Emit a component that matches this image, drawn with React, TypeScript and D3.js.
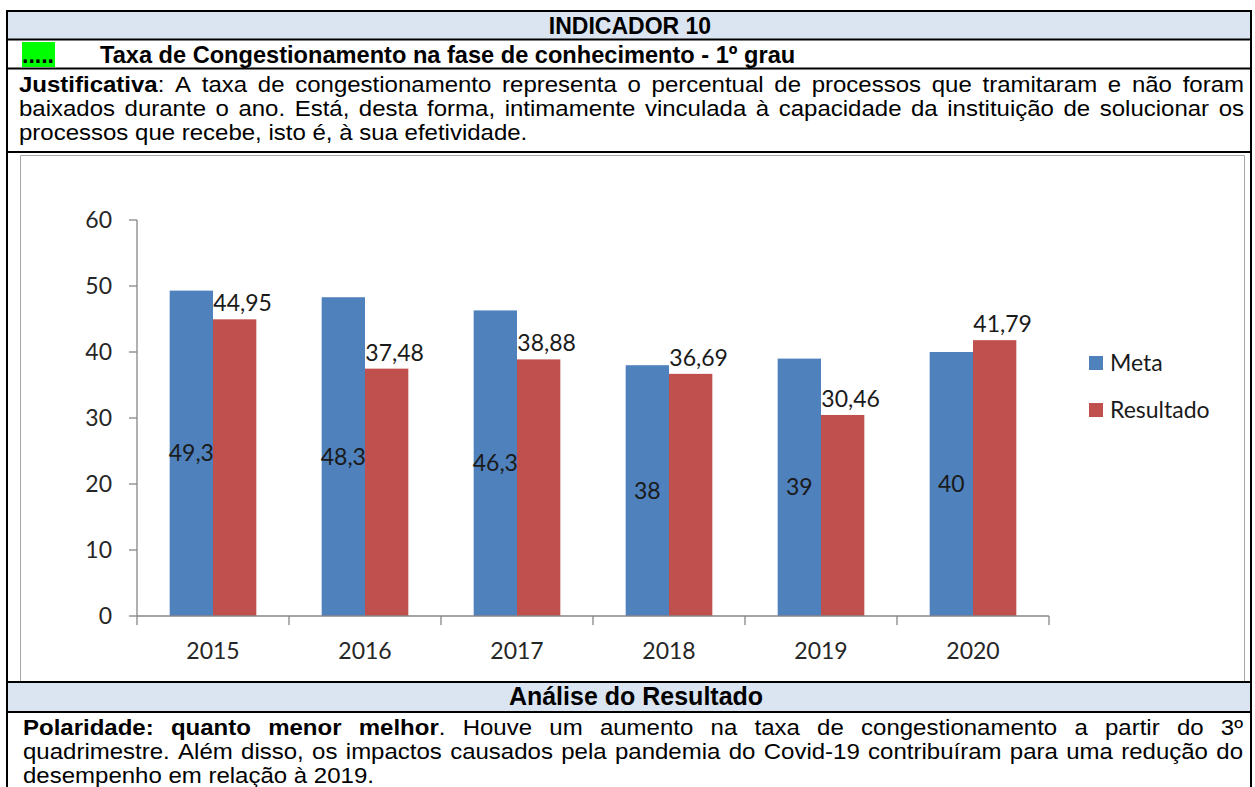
import React from 'react';
import * as d3 from 'd3';

const years = ['2015', '2016', '2017', '2018', '2019', '2020'];
const metaValues = [49.3, 48.3, 46.3, 38, 39, 40];
const resultadoValues = [44.95, 37.48, 38.88, 36.69, 30.46, 41.79];
const seriesNames = ['Meta', 'Resultado'];
const seriesColors = ['#4f81bd', '#c0504d'];
const yTicks = [0, 10, 20, 30, 40, 50, 60];

const headerText = 'INDICADOR 10';
const dotsText = '.....';
const titleText = 'Taxa de Congestionamento na fase de conhecimento - 1º grau';
const analiseText = 'Análise do Resultado';

type Run = { t: string; b: boolean };
const justLines: Run[][] = [
  [
    { t: 'Justificativa', b: true },
    { t: ': A taxa de congestionamento representa o percentual de processos que tramitaram e não foram', b: false },
  ],
  [{ t: 'baixados durante o ano. Está, desta forma, intimamente vinculada à capacidade da instituição de solucionar os', b: false }],
  [{ t: 'processos que recebe, isto é, à sua efetividade.', b: false }],
];
const analiseLines: Run[][] = [
  [
    { t: 'Polaridade: quanto menor melhor', b: true },
    { t: '. Houve um aumento na taxa de congestionamento a partir do 3º', b: false },
  ],
  [{ t: 'quadrimestre. Além disso, os impactos causados pela pandemia do Covid-19 contribuíram para uma redução do', b: false }],
  [{ t: 'desempenho em relação à 2019.', b: false }],
];

const TFONT = '"Liberation Sans", Arial, sans-serif';
const MSIZE = 24; // advance widths as in the reference
const RSIZE = 21.4; // glyph height as in the reference
const CFONT = 'Lato, "Open Sans", sans-serif';
const CSIZE = 23;

let _ctx: CanvasRenderingContext2D | null = null;
function measure(text: string, bold: boolean) {
  if (!_ctx) _ctx = document.createElement('canvas').getContext('2d');
  _ctx!.font = `${bold ? 'bold ' : ''}${MSIZE}px ${TFONT}`;
  return _ctx!.measureText(text).width;
}

type Word = { runs: Run[]; x: number; y: number; w: number };

function layoutLine(runs: Run[], x0: number, x1: number, y: number, justify: boolean): Word[] {
  const words: { runs: Run[]; w: number }[] = [];
  let cur: Run[] = [];
  const pushChar = (ch: string, b: boolean) => {
    const last = cur[cur.length - 1];
    if (last && last.b === b) last.t += ch;
    else cur.push({ t: ch, b });
  };
  const flush = () => {
    if (cur.length) {
      const w = cur.reduce((s, r) => s + measure(r.t, r.b), 0);
      words.push({ runs: cur, w });
    }
    cur = [];
  };
  runs.forEach((r) => {
    for (const ch of r.t) {
      if (ch === ' ') flush();
      else pushChar(ch, r.b);
    }
  });
  flush();
  const total = words.reduce((s, w) => s + w.w, 0);
  const gap = justify && words.length > 1 ? (x1 - x0 - total) / (words.length - 1) : measure(' ', false);
  let x = x0;
  return words.map((w) => {
    const out = { runs: w.runs, x, y, w: w.w };
    x += w.w + gap;
    return out;
  });
}

function Paragraph({ lines, x0, x1, y0, lh }: { lines: Run[][]; x0: number; x1: number; y0: number; lh: number }) {
  const words: Word[] = [];
  lines.forEach((runs, i) => {
    words.push(...layoutLine(runs, x0, x1, y0 + i * lh, i < lines.length - 1));
  });
  return (
    <g>
      {words.map((w, i) => (
        <text
          key={i}
          x={w.x}
          y={w.y}
          fontFamily={TFONT}
          fontSize={RSIZE}
          fill="#000"
          textLength={w.w}
          lengthAdjust="spacingAndGlyphs"
        >
          {w.runs.map((r, j) => (
            <tspan key={j} fontWeight={r.b ? 'bold' : 'normal'}>
              {r.t}
            </tspan>
          ))}
        </text>
      ))}
    </g>
  );
}

const fmt = (v: number) => String(v).replace('.', ',');

export default function App() {
  const W = 1255;
  const H = 787;

  const x = d3.scaleBand<string>().domain(years).range([137, 1049]).paddingInner(0.43).paddingOuter(0.215);
  const xs = d3.scaleBand<string>().domain(seriesNames).range([0, x.bandwidth()]).padding(0);
  const y = d3.scaleLinear().domain([0, 60]).range([616, 220]);
  const step = x.step();
  const axisColor = '#868686';
  const seriesValues = [metaValues, resultadoValues];

  const L = 7;
  const R = 1251;

  return (
    <svg width={W} height={H} style={{ position: 'absolute', left: 0, top: 0 }} xmlns="http://www.w3.org/2000/svg">
      <rect x={0} y={0} width={W} height={H} fill="#fff" />
      <rect x={L} y={11} width={R - L} height={28.5} fill="#dbe5f1" />
      <rect x={L} y={682} width={R - L} height={30} fill="#dbe5f1" />
      <rect x={22} y={42} width={33} height={25} fill="#00ff00" />

      <g stroke="#a6a6a6" strokeWidth={1} fill="none">
        <line x1={20.5} y1={155.5} x2={20.5} y2={682} />
        <line x1={20.5} y1={155.5} x2={1244.5} y2={155.5} />
        <line x1={1244.5} y1={155.5} x2={1244.5} y2={682} />
      </g>

      <g stroke="#000" strokeWidth={2}>
        <line x1={L} y1={10} x2={L} y2={H} />
        <line x1={R} y1={10} x2={R} y2={H} />
        {[11, 39.5, 68.5, 152, 682, 712].map((yy) => (
          <line key={yy} x1={L - 1} y1={yy} x2={R + 1} y2={yy} />
        ))}
      </g>

      <text x={630} y={34} textAnchor="middle" fontFamily={TFONT} fontSize={23} fontWeight="bold">
        {headerText}
      </text>
      <text x={22} y={63} fontFamily={TFONT} fontSize={23} fontWeight="bold">
        {dotsText}
      </text>
      <text x={100} y={63} fontFamily={TFONT} fontSize={23.6} fontWeight="bold">
        {titleText}
      </text>
      <Paragraph lines={justLines} x0={19} x1={1244} y0={92} lh={24} />
      <text x={636} y={705} textAnchor="middle" fontFamily={TFONT} fontSize={25} fontWeight="bold">
        {analiseText}
      </text>
      <Paragraph lines={analiseLines} x0={23} x1={1243} y0={735} lh={24} />

      <g>
        <line x1={137} y1={y(60)} x2={137} y2={y(0)} stroke={axisColor} strokeWidth={1.3} />
        {yTicks.map((t) => (
          <g key={t}>
            <line x1={129} x2={137} y1={y(t)} y2={y(t)} stroke={axisColor} strokeWidth={1.3} />
            <text x={112} y={y(t)} dy="0.35em" textAnchor="end" fontFamily={CFONT} fontSize={CSIZE} fill="#262626">
              {t}
            </text>
          </g>
        ))}
        {seriesValues.map((vals, si) => (
          <g key={si}>
            {vals.map((v, i) => (
              <rect
                key={i}
                x={(x(years[i]) as number) + (xs(seriesNames[si]) as number)}
                y={y(v)}
                width={xs.bandwidth()}
                height={y(0) - y(v)}
                fill={seriesColors[si]}
              />
            ))}
          </g>
        ))}
        <line x1={137} y1={y(0)} x2={137 + step * years.length} y2={y(0)} stroke={axisColor} strokeWidth={1.3} />
        {d3.range(years.length + 1).map((i) => (
          <line key={i} x1={137 + i * step} x2={137 + i * step} y1={y(0)} y2={y(0) + 9} stroke={axisColor} strokeWidth={1.3} />
        ))}
        {years.map((yr) => (
          <text
            key={yr}
            x={(x(yr) as number) + x.bandwidth() / 2}
            y={659}
            textAnchor="middle"
            fontFamily={CFONT}
            fontSize={CSIZE}
            fill="#262626"
          >
            {yr}
          </text>
        ))}
        {metaValues.map((v, i) => (
          <text
            key={'m' + i}
            x={(x(years[i]) as number) + (xs('Meta') as number) + xs.bandwidth() / 2}
            y={(y(v) + y(0)) / 2}
            dy="0.35em"
            textAnchor="middle"
            fontFamily={CFONT}
            fontSize={CSIZE}
            fill="#1a1a1a"
          >
            {fmt(v)}
          </text>
        ))}
        {resultadoValues.map((v, i) => (
          <text
            key={'r' + i}
            x={(x(years[i]) as number) + (xs('Resultado') as number) + xs.bandwidth() / 2 + 8}
            y={y(v) - 8}
            textAnchor="middle"
            fontFamily={CFONT}
            fontSize={CSIZE}
            fill="#1a1a1a"
          >
            {fmt(v)}
          </text>
        ))}
        {seriesNames.map((s, i) => (
          <g key={s} transform={`translate(1089, ${356 + i * 47})`}>
            <rect x={0} y={0} width={14} height={14} fill={seriesColors[i]} />
            <text x={21} y={7} dy="0.36em" fontFamily={CFONT} fontSize={CSIZE} fill="#1a1a1a">
              {s}
            </text>
          </g>
        ))}
      </g>
    </svg>
  );
}
